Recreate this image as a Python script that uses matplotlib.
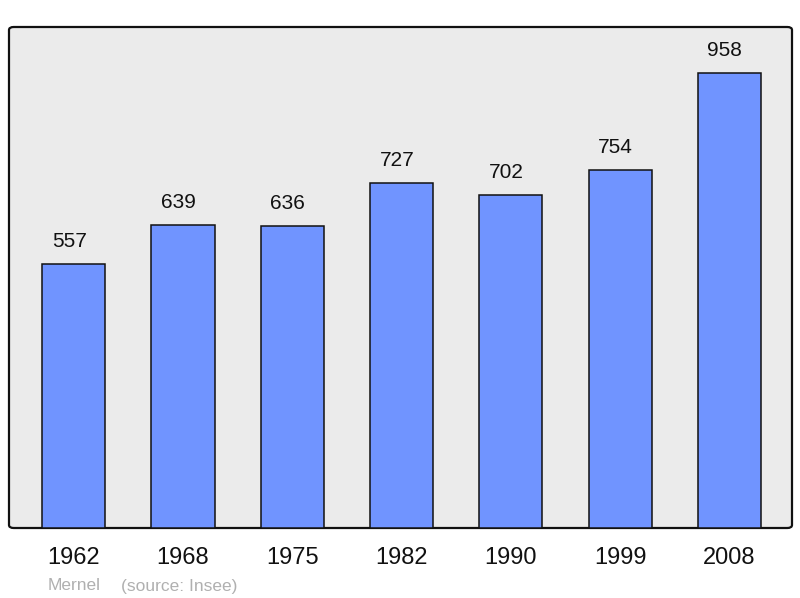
import matplotlib
matplotlib.use("Agg")
import matplotlib.pyplot as plt
from matplotlib.patches import FancyBboxPatch

years = ["1962", "1968", "1975", "1982", "1990", "1999", "2008"]
population = [557, 639, 636, 727, 702, 754, 958]
commune = "Mernel"
source = "(source: Insee)"

plt.rcParams['font.family'] = ['Liberation Sans', 'DejaVu Sans']

W, H = 800, 598
fig = plt.figure(figsize=(W / 100, H / 100), dpi=100)
ax = fig.add_axes([9 / W, (H - 528) / H, 783 / W, 501 / H])
ax.set_facecolor('none')

# background with rounded frame
bg = FancyBboxPatch((0, 0), 1, 1, boxstyle="round,pad=0,rounding_size=0.006",
                    transform=ax.transAxes, facecolor='#ebebeb', edgecolor='#111111',
                    linewidth=1.6, zorder=0, clip_on=False)
ax.add_patch(bg)

x = list(range(len(years)))
bars = ax.bar(x, population, width=0.577, color='#7094ff', edgecolor='#111111',
              linewidth=1.1, zorder=2)
for xi, v in zip(x, population):
    ax.annotate(str(v), (xi, v), xytext=(-3.3, 9.5), textcoords='offset points',
                ha='center', va='bottom', fontsize=15, color='#111111')

ax.set_xlim(-0.592, 6.572)
ax.set_ylim(0, 1056)
for s in ax.spines.values():
    s.set_visible(False)
ax.set_yticks([])
ax.set_xticks(x)
ax.set_xticklabels(years, fontsize=17, color='#111111')
ax.tick_params(axis='x', length=0, pad=14)

fig.text(48 / W, 1 - 586 / H, commune, fontsize=12.5, color='#b0b0b0', va='center', ha='left')
fig.text(121 / W, 1 - 586 / H, source, fontsize=12.5, color='#b0b0b0', va='center', ha='left')

fig.savefig("out.png", dpi=100)
